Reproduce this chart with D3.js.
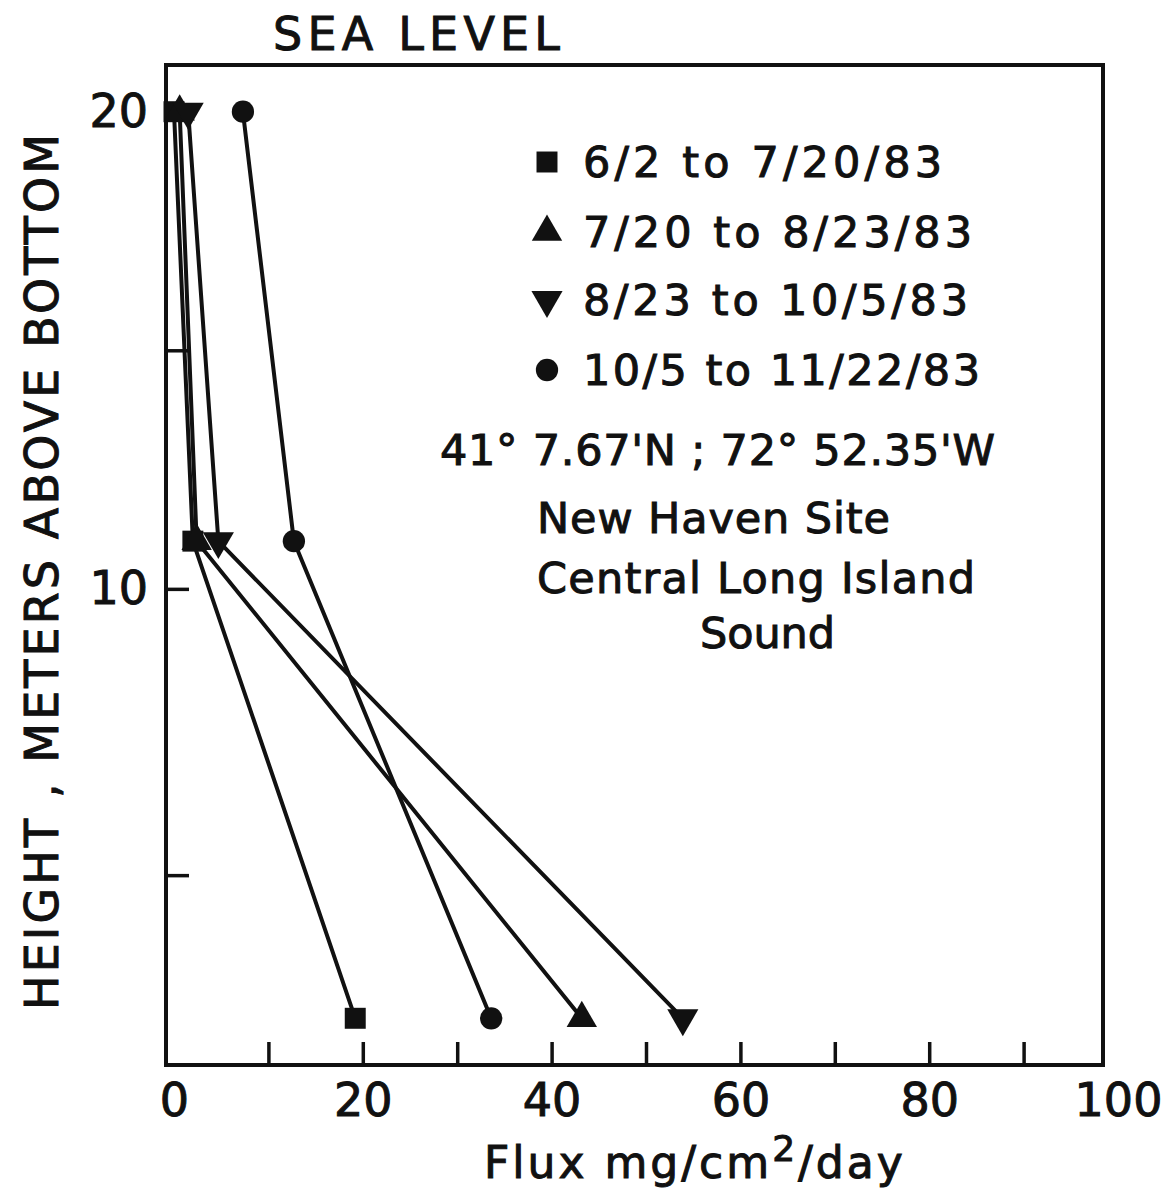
<!DOCTYPE html>
<html>
<head>
<meta charset="utf-8">
<script src="https://cdn.jsdelivr.net/npm/d3@7"></script>
<style>
body{margin:0;background:#fff}
text{font-family:"DejaVu Sans",sans-serif;fill:#111;stroke:#111;stroke-width:1px}
</style>
</head>
<body>
<svg id="svg1" width="1162" height="1195"></svg>
<script>
// heights (m above bottom) where the traps sat
var heights = [20, 11, 1]

// flux per period, same order as heights
var sqVals  = [0, 2.0, 19.2]     // 6/2 to 7/20/83
var triVals = [0.6, 2.4, 43.2]   // 7/20 to 8/23/83
var invVals = [1.5, 4.7, 53.9]   // 8/23 to 10/5/83
var cirVals = [7.3, 12.7, 33.6]  // 10/5 to 11/22/83

var periods = ["6/2 to 7/20/83", "7/20 to 8/23/83", "8/23 to 10/5/83", "10/5 to 11/22/83"]
var xTicks = [0,10,20,30,40,50,60,70,80,90,100]
var yTicks = [4,10,15,20]

var svg = d3.select("#svg1")

// plot frame (note: "top" is taken by window.top)
var fL=166, fT=65, fR=1103, fB=1065

var x = d3.scaleLinear().domain([0,100]).range([174,1118])
var y = d3.scaleLinear().domain([0,21]).range([1066,64])

// frame
svg.append("rect")
    .attr("x",fL).attr("y",fT)
    .attr("width",fR-fL).attr("height",fB-fT)
    .attr("fill","none").attr("stroke","#111").attr("stroke-width",4)

// axes, ticks pointing inward
var xa = svg.append("g")
    .attr("transform","translate(0,"+fB+")")
    .call(d3.axisBottom(x).tickValues(xTicks).tickSize(-23).tickPadding(18)
        .tickFormat(function(d){ return d%20==0 ? d : "" }))
xa.select(".domain").remove()
xa.selectAll("line").attr("stroke","#111").attr("stroke-width",3.5)
    .style("display",function(d){ return (d==0||d==100) ? "none" : null })
xa.selectAll("text").style("font-size","46px").attr("fill","#111")

var ya = svg.append("g")
    .attr("transform","translate("+fL+",0)")
    .call(d3.axisLeft(y).tickValues(yTicks).tickSize(-23).tickPadding(18)
        .tickFormat(function(d){ return (d==10||d==20) ? d : "" }))
ya.select(".domain").remove()
ya.selectAll("line").attr("stroke","#111").attr("stroke-width",3.5)
ya.selectAll("text").style("font-size","46px").attr("fill","#111")

// series
var series = [
    {vals:sqVals,  sym:d3.symbolSquare,   size:440, rot:0},
    {vals:triVals, sym:d3.symbolTriangle, size:400, rot:0},
    {vals:invVals, sym:d3.symbolTriangle, size:420, rot:180},
    {vals:cirVals, sym:d3.symbolCircle,   size:390, rot:0}
]

var line = d3.line()
    .x(function(d){ return x(d.v) })
    .y(function(d){ return y(d.h) })

series.forEach(function(s){
    var pts = s.vals.map(function(v,i){ return {v:v,h:heights[i]} })
    svg.append("path")
        .attr("d",line(pts))
        .attr("fill","none").attr("stroke","#111").attr("stroke-width",4)
})
series.forEach(function(s){
    var pts = s.vals.map(function(v,i){ return {v:v,h:heights[i]} })
    svg.append("g").selectAll("path")
        .data(pts)
        .enter()
        .append("path")
        .attr("d",d3.symbol().type(s.sym).size(s.size))
        .attr("transform",function(d){
            return "translate("+x(d.v)+","+y(d.h)+") rotate("+s.rot+")" })
        .attr("fill","#111")
})

// legend
var legY = [162,232,300,370]
var legW = [359,389,385,397]
series.forEach(function(s,i){
    svg.append("path")
        .attr("d",d3.symbol().type(s.sym).size(s.size))
        .attr("transform","translate(547,"+legY[i]+") rotate("+s.rot+")")
        .attr("fill","#111")
    svg.append("text")
        .attr("x",583).attr("y",legY[i])
        .attr("dy","0.36em")
        .attr("textLength",legW[i])
        .style("font-size","43px")
        .text(periods[i])
})

// notes
var notes = [
    {t:"41\u00b0 7.67'N ; 72\u00b0 52.35'W", x:440, y:450, w:555},
    {t:"New Haven Site", x:537, y:518, w:353},
    {t:"Central Long Island", x:537, y:578, w:438},
    {t:"Sound", x:700, y:633, w:135}
]
notes.forEach(function(n){
    svg.append("text")
        .attr("x",n.x).attr("y",n.y).attr("dy","0.36em")
        .attr("textLength",n.w)
        .style("font-size","43px")
        .text(n.t)
})

svg.append("text")
    .attr("x",273).attr("y",50)
    .attr("textLength",287)
    .style("font-size","46px")
    .text("SEA LEVEL")

// axis titles
var xt = svg.append("text")
    .attr("x",484).attr("y",1178)
    .style("font-size","44px")
    .style("letter-spacing","3px")
xt.append("tspan").text("Flux mg/cm")
xt.append("tspan").attr("dy",-17).style("font-size","36px").text("2")
xt.append("tspan").attr("dy",17).text("/day")

svg.append("text")
    .attr("transform","translate(58,572) rotate(-90)")
    .attr("text-anchor","middle")
    .attr("textLength",876)
    .style("font-size","46px")
    .text("HEIGHT , METERS ABOVE BOTTOM")
</script>
</body>
</html>
